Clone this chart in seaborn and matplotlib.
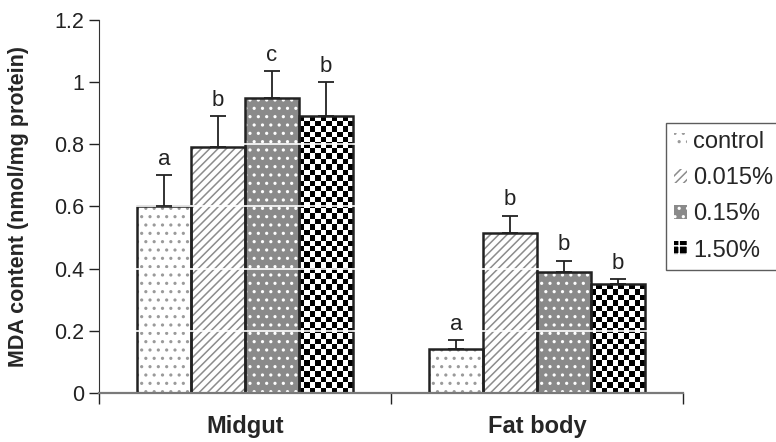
import numpy as np
import pandas as pd
import seaborn as sns
import matplotlib.pyplot as plt
from matplotlib.patches import Rectangle, Patch

# values
tissues = ["Midgut", "Fat body"]
treatments = ["control", "0.015%", "0.15%", "1.50%"]
midgut_mean = [0.60, 0.79, 0.95, 0.89]
midgut_err = [0.10, 0.10, 0.085, 0.11]
fat_mean = [0.14, 0.515, 0.39, 0.35]
fat_err = [0.03, 0.055, 0.035, 0.015]
midgut_letters = ["a", "b", "c", "b"]
fat_letters = ["a", "b", "b", "b"]
yticks = [0, 0.2, 0.4, 0.6, 0.8, 1.0, 1.2]
ytick_labels = ["0", "0.2", "0.4", "0.6", "0.8", "1", "1.2"]

df = pd.DataFrame({
    "tissue": np.repeat(tissues, len(treatments)),
    "treatment": treatments * 2,
    "mda": midgut_mean + fat_mean,
    "err": midgut_err + fat_err,
    "letter": midgut_letters + fat_letters,
})

sns.set_style("ticks")
plt.rcParams["font.family"] = ["Liberation Sans", "DejaVu Sans"]
plt.rcParams["hatch.linewidth"] = 1.1

# face, hatch, hatch colour per treatment (None -> checkerboard)
styles = {
    "control": ("white", "..", "#9a9a9a"),
    "0.015%": ("white", "////", "#8c8c8c"),
    "0.15%": ("#8a8a8a", "..", "white"),
    "1.50%": None,
}

fig = plt.figure(figsize=(7.76, 4.42), dpi=100)
ax = fig.add_axes([0.1276, 0.111, 0.7526, 0.8438])
sns.barplot(data=df, x="tissue", y="mda", hue="treatment", order=tissues,
            hue_order=treatments, width=0.74, palette=["white"] * 4,
            errorbar=None, legend=False, ax=ax)

for i, (trt, cont) in enumerate(zip(treatments, ax.containers)):
    sub = df[df.treatment == trt].set_index("tissue").loc[tissues]
    xs, hs = [], []
    for p in cont:
        x0, w, h = p.get_x(), p.get_width(), p.get_height()
        xs.append(x0 + w / 2)
        hs.append(h)
        st = styles[trt]
        if st is None:
            p.set_facecolor("white")
            p.set_linewidth(0)
            cell = 0.0175
            nr = int(np.ceil(h / cell))
            nc = 10
            arr = (np.add.outer(np.arange(nr), np.arange(nc)) % 2).astype(float)
            im = ax.imshow(arr, extent=[x0, x0 + w, 0, nr * cell], origin="lower",
                           cmap="gray", interpolation="nearest", aspect="auto", zorder=1.5)
            im.set_clip_path(p)
        else:
            face, hatch, hc = st
            p.set_facecolor(face)
            p.set_edgecolor(hc)
            p.set_hatch(hatch)
            p.set_linewidth(0)
        ax.add_patch(Rectangle((x0, 0), w, h, fill=False, edgecolor="#222222",
                               linewidth=1.8, zorder=2))
    ax.errorbar(xs, hs, yerr=[[0] * len(xs), sub["err"].values], fmt="none",
                ecolor="#222222", elinewidth=1.3, capsize=5.5, capthick=1.3, zorder=4)
    for x, h, e, lt in zip(xs, hs, sub["err"].values, sub["letter"].values):
        ax.text(x, h + e + 0.018, lt, ha="center", va="bottom", fontsize=16, color="#222222")

# white grid lines drawn over the bars, as in the original
for y in yticks[1:]:
    ax.axhline(y, color="white", linewidth=1.2, zorder=2.2)

ax.set_xlim(-0.5, 1.5)
ax.set_ylim(0, 1.2)
ax.set_yticks(yticks)
ax.set_yticklabels(ytick_labels)
ax.set_xticks([0, 1])
ax.set_xticklabels(tissues, fontweight="bold", fontsize=17)
ax.set_xticks([-0.5, 0.5, 1.5], minor=True)
ax.tick_params(axis="x", which="major", length=0, pad=16)
ax.tick_params(axis="x", which="minor", length=8, width=1, color="#222222", direction="out")
ax.tick_params(axis="y", length=7, width=1, labelsize=15.5, color="#222222", labelcolor="#222222")
ax.set_xlabel("")
ax.set_ylabel("MDA content (nmol/mg protein)", fontweight="bold", fontsize=15.5, labelpad=18)
for s in ["top", "right"]:
    ax.spines[s].set_visible(False)
ax.spines["left"].set_color("#333333")
ax.spines["bottom"].set_color("#7a7a7a")
ax.spines["bottom"].set_linewidth(1.6)

handles = [
    Patch(facecolor="white", edgecolor="#9a9a9a", hatch="..", linewidth=0),
    Patch(facecolor="white", edgecolor="#8c8c8c", hatch="////", linewidth=0),
    Patch(facecolor="#8a8a8a", edgecolor="white", hatch="..", linewidth=0),
    Patch(facecolor="black", edgecolor="white", hatch="++", linewidth=0),
]
leg = fig.legend(handles, treatments, loc="upper left", bbox_to_anchor=(0.858, 0.722),
                 fontsize=17, frameon=True, fancybox=False, handlelength=0.55,
                 handleheight=0.55, handletextpad=0.25, labelspacing=0.6,
                 borderpad=0.35, borderaxespad=0)
leg.get_frame().set_edgecolor("#333333")
leg.get_frame().set_linewidth(1.0)

fig.savefig("out.png", dpi=100)
